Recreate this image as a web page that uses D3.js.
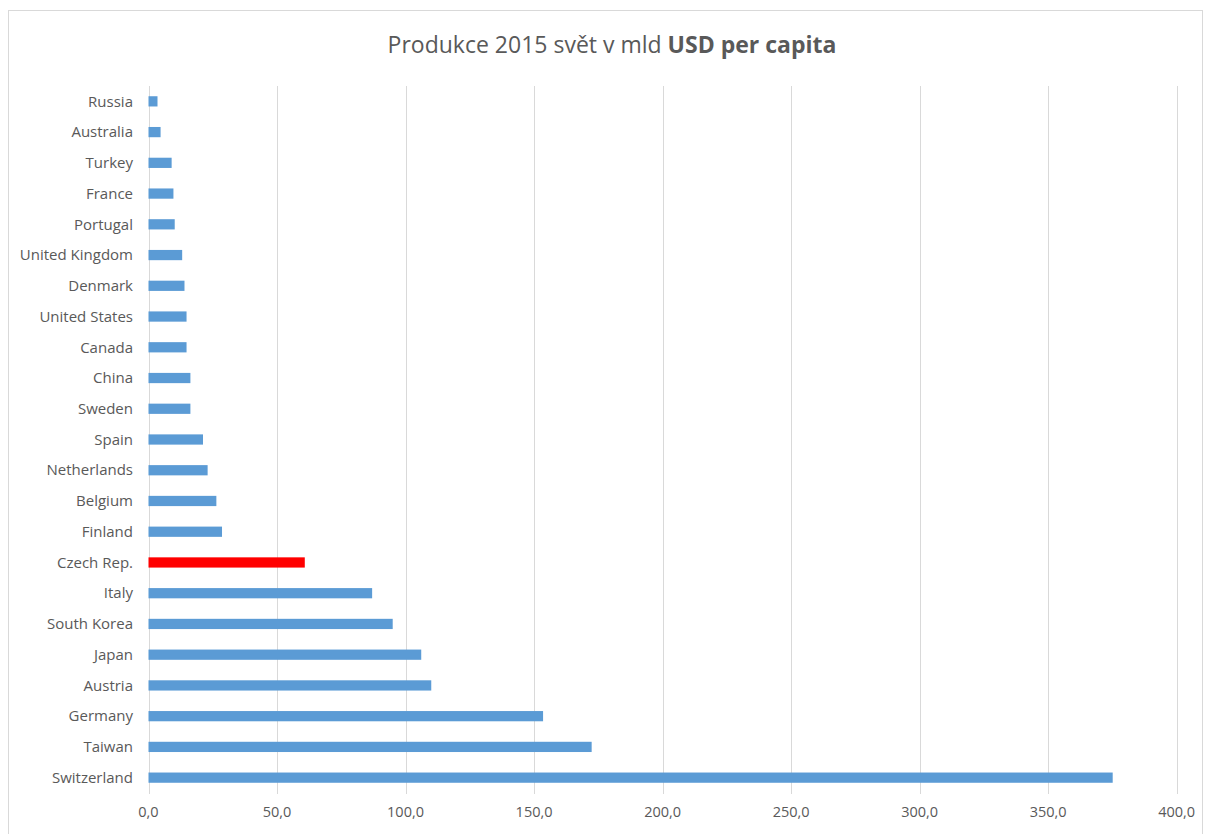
<!DOCTYPE html>
<html>
<head>
<meta charset="utf-8">
<script src="https://cdn.jsdelivr.net/npm/d3@7"></script>
<style>
  body { margin: 0; background: #fff; }
  svg { display: block; }
  text { font-family: "Open Sans", sans-serif; fill: #595959; }
</style>
</head>
<body>
<svg id="chart" width="1206" height="834"></svg>
<script>
// data, top to bottom as shown
var countries = ["Russia", "Australia", "Turkey", "France", "Portugal", "United Kingdom",
    "Denmark", "United States", "Canada", "China", "Sweden", "Spain", "Netherlands",
    "Belgium", "Finland", "Czech Rep.", "Italy", "South Korea", "Japan", "Austria",
    "Germany", "Taiwan", "Switzerland"];
var values = [3.5, 4.7, 9.0, 9.7, 10.2, 13.1, 14.0, 14.8, 14.8, 16.3, 16.3, 21.2, 23.0,
    26.4, 28.6, 60.8, 87.0, 95.0, 106.1, 110.0, 153.5, 172.4, 375.1];
var xTicks = [0, 50, 100, 150, 200, 250, 300, 350, 400];
var highlight = "Czech Rep.";

var svg = d3.select("#chart");

// chart frame
svg.append("rect")
    .attr("x", 8.5).attr("y", 10.5)
    .attr("width", 1194).attr("height", 840)
    .attr("fill", "none")
    .attr("stroke", "#d9d9d9");

var x = d3.scaleLinear().domain([0, 400]).range([148.5, 1176.7]);
var y = d3.scaleBand().domain(countries).range([86, 793])
    .paddingInner(0.667).paddingOuter(0.333);

// gridlines
svg.append("g")
    .selectAll("line")
    .data(xTicks)
    .enter().append("line")
    .attr("x1", function(d) { return Math.round(x(d)) + 0.5; })
    .attr("x2", function(d) { return Math.round(x(d)) + 0.5; })
    .attr("y1", 86).attr("y2", 794)
    .attr("stroke", "#d9d9d9");

// bars
svg.append("g")
    .selectAll("rect")
    .data(values)
    .enter().append("rect")
    .attr("x", x(0))
    .attr("y", function(d, i) { return y(countries[i]); })
    .attr("width", function(d) { return x(d) - x(0); })
    .attr("height", y.bandwidth())
    .attr("fill", function(d, i) { return countries[i] === highlight ? "#ff0000" : "#5b9bd5"; });

// category labels
svg.append("g")
    .selectAll("text")
    .data(countries)
    .enter().append("text")
    .attr("x", 133)
    .attr("y", function(d) { return y(d) + y.bandwidth() / 2; })
    .attr("dy", "0.35em")
    .attr("text-anchor", "end")
    .style("font-size", "15px")
    .text(function(d) { return d; });

// x tick labels
var fmt = function(d) { return d3.format(".1f")(d).replace(".", ","); };
svg.append("g")
    .selectAll("text")
    .data(xTicks)
    .enter().append("text")
    .attr("x", function(d) { return x(d); })
    .attr("y", 812)
    .attr("dy", "0.35em")
    .attr("text-anchor", "middle")
    .style("font-size", "14.5px")
    .text(fmt);

// title
var title = svg.append("text")
    .attr("x", 612)
    .attr("y", 45)
    .attr("dy", "0.35em")
    .attr("text-anchor", "middle")
    .style("font-size", "23px");
title.append("tspan").text("Produkce 2015 svět v mld ");
title.append("tspan").style("font-weight", "bold").text("USD per capita");
</script>
</body>
</html>
